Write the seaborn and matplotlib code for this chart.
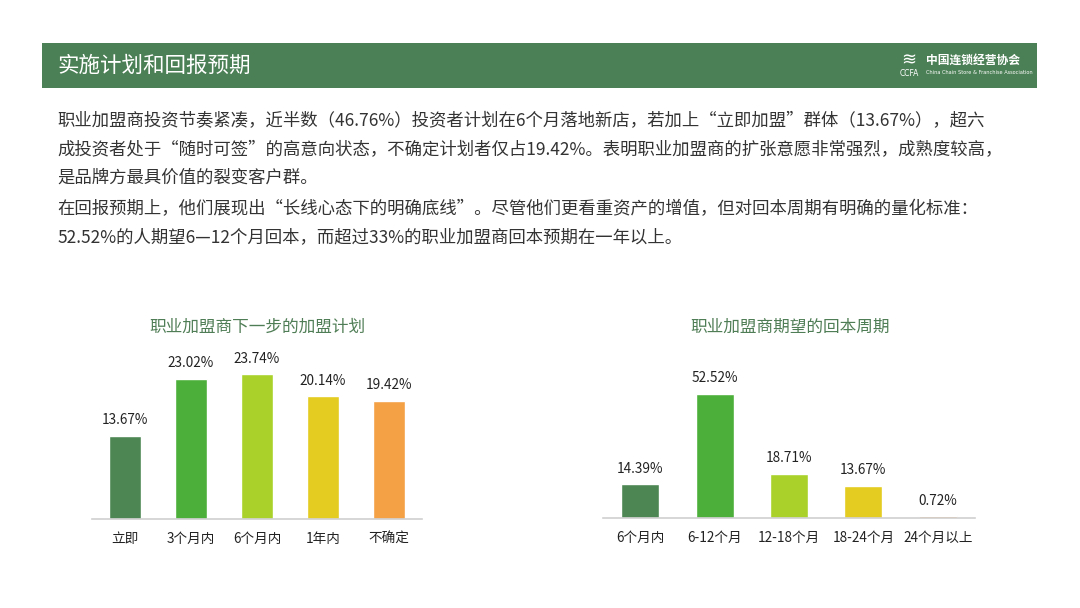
import matplotlib
matplotlib.use("Agg")
import matplotlib.pyplot as plt
import seaborn as sns
import pandas as pd
from matplotlib.patches import Rectangle

sns.set_theme(style="white")
plt.rcParams['font.family'] = ['Noto Sans CJK SC', 'DejaVu Sans']

# ---------------- data ----------------
header_title = "实施计划和回报预期"
paragraph_lines = [
    "职业加盟商投资节奏紧凑，近半数（46.76%）投资者计划在6个月落地新店，若加上“立即加盟”群体（13.67%），超六",
    "成投资者处于“随时可签”的高意向状态，不确定计划者仅占19.42%。表明职业加盟商的扩张意愿非常强烈，成熟度较高，",
    "是品牌方最具价值的裂变客户群。",
    "在回报预期上，他们展现出“长线心态下的明确底线”。尽管他们更看重资产的增值，但对回本周期有明确的量化标准：",
    "52.52%的人期望6—12个月回本，而超过33%的职业加盟商回本预期在一年以上。",
]

plan_title = "职业加盟商下一步的加盟计划"
plan_categories = ["立即", "3个月内", "6个月内", "1年内", "不确定"]
plan_values = [13.67, 23.02, 23.74, 20.14, 19.42]

payback_title = "职业加盟商期望的回本周期"
payback_categories = ["6个月内", "6-12个月", "12-18个月", "18-24个月", "24个月以上"]
payback_values = [14.39, 52.52, 18.71, 13.67, 0.72]

bar_colors = ["#4d8653", "#4caf3a", "#a9d12a", "#e4cc20", "#f4a044"]

# ---------------- figure ----------------
W, H = 1080, 608
fig = plt.figure(figsize=(W / 100, H / 100), dpi=100)
fig.patch.set_facecolor("white")


def fx(x):
    return x / W


def fy(y):
    return 1 - y / H


# header band
fig.patches.append(Rectangle((fx(42), fy(88)), fx(1037) - fx(42), fy(43) - fy(88),
                             transform=fig.transFigure, facecolor="#4b7f55",
                             edgecolor="none", zorder=0))
fig.text(fx(57), fy(66), header_title, color="white", fontsize=15.5,
         va="center", ha="left")
# logo
fig.text(fx(909), fy(60), "≋", color="white", fontsize=13, va="center",
         ha="center", family=["DejaVu Sans"])
fig.text(fx(909), fy(73), "CCFA", color="white", fontsize=5.5, va="center",
         ha="center", family=["DejaVu Sans"])
fig.text(fx(926), fy(60), "中国连锁经营协会", color="white", fontsize=8.5,
         va="center", ha="left", fontweight="bold")
fig.text(fx(926), fy(72), "China Chain Store & Franchise Association",
         color="white", fontsize=3.6, va="center", ha="left",
         family=["DejaVu Sans"])

# paragraphs
line_ys = [121, 150, 178, 209, 237]
for txt, y in zip(paragraph_lines, line_ys):
    fig.text(fx(57), fy(y), txt, color="#333333", fontsize=12.5,
             va="center", ha="left")


def bar_chart(rect, cats, vals, title, ymax, width, title_xy):
    ax = fig.add_axes(rect)
    df = pd.DataFrame({"cat": cats, "val": vals})
    sns.barplot(data=df, x="cat", y="val", hue="cat", palette=bar_colors,
                order=cats, hue_order=cats, width=width, legend=False,
                saturation=1, ax=ax)
    for cont in ax.containers:
        ax.bar_label(cont, labels=[f"{v:.2f}%" for v in cont.datavalues],
                     padding=6, fontsize=9.8, color="#222222")
    ax.set_xlim(-0.5, len(cats) - 0.5)
    ax.set_ylim(0, ymax)
    ax.set_xlabel("")
    ax.set_ylabel("")
    ax.set_yticks([])
    for s in ["top", "left", "right"]:
        ax.spines[s].set_visible(False)
    ax.spines["bottom"].set_color("#d0d0d0")
    ax.spines["bottom"].set_linewidth(1.2)
    ax.tick_params(axis="x", length=0, pad=9, labelsize=9.8,
                   labelcolor="#222222")
    ax.set_facecolor("none")
    fig.text(fx(title_xy[0]), fy(title_xy[1]), title, color="#4f7d55",
             fontsize=12, ha="center", va="center")
    return ax


# left chart: x 92-422, y 350-519
bar_chart([fx(92), fy(519), fx(422) - fx(92), fy(350) - fy(519)],
          plan_categories, plan_values, plan_title, 169 / 6.1, 0.48, (257, 327))

# right chart: x 603-975, y 350-518
bar_chart([fx(603), fy(518), fx(975) - fx(603), fy(350) - fy(518)],
          payback_categories, payback_values, payback_title, 168 / 2.37, 0.51,
          (790, 327))

fig.savefig("out.png", dpi=100, facecolor="white")
